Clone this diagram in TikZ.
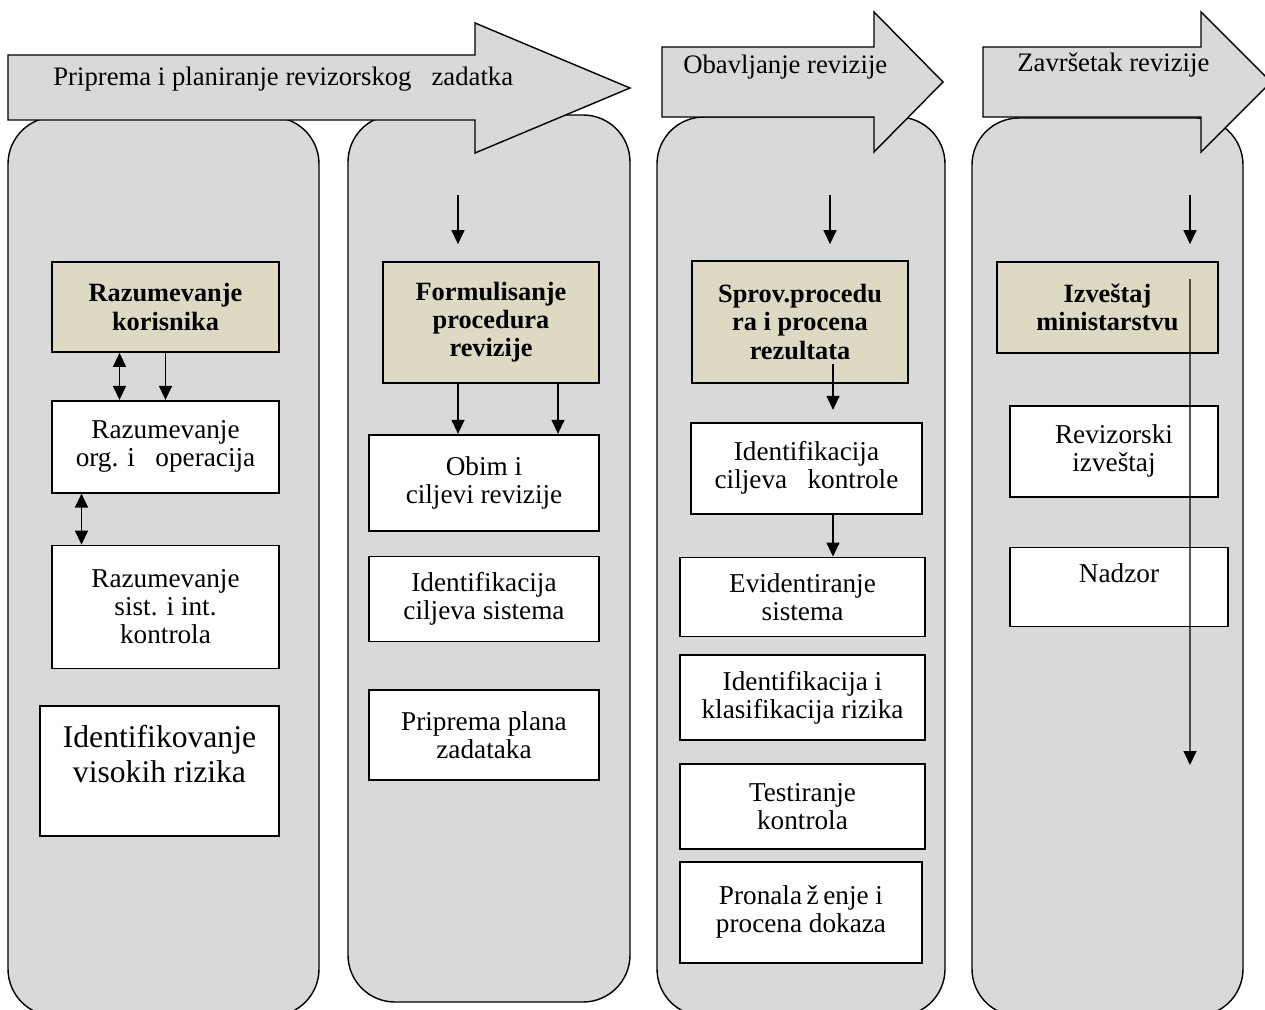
\documentclass[tikz,border=0pt]{standalone}
\usepackage{fontspec}
\setmainfont{Liberation Serif}
\usetikzlibrary{positioning,calc,arrows.meta}
\definecolor{lanegray}{HTML}{D9D9D9}
\definecolor{tanfill}{HTML}{DDD9C3}

\begin{document}
\begin{tikzpicture}[x=0.02cm, y=-0.02cm,
    lane/.style={draw, line width=0.8pt, fill=lanegray, rounded corners=0.94cm},
    phase/.style={draw, line width=0.8pt, fill=lanegray},
    phasetext/.style={anchor=west, inner sep=0pt, font=\fontsize{15.2}{16}\selectfont},
    headbox/.style={draw, line width=1pt, fill=tanfill, align=center, inner sep=2pt, font=\bfseries\fontsize{15}{16}\selectfont},
    stepbox/.style={draw, line width=1pt, fill=white, align=center, inner sep=2pt, font=\fontsize{15.5}{16}\selectfont},
    arr/.style={line width=0.8pt, -{Triangle[length=0.28cm,width=0.26cm]}},
    dblarr/.style={line width=0.8pt, {Triangle[length=0.28cm,width=0.26cm]}-{Triangle[length=0.28cm,width=0.26cm]}}]
    \useasboundingbox (0,0) rectangle (1265,1010);
    \clip (0,0) rectangle (1265,1010);

    % lanes
    \draw[lane] (8,117) rectangle (319,1016);
    \draw[lane] (348,115) rectangle (630,1002);
    \draw[lane] (657,117) rectangle (945,1016);
    \draw[lane] (972,118) rectangle (1243,1016);

    % phase arrows
    \draw[phase] (8,55) -- (475,55) -- (475,23) -- (630,88) -- (475,153) -- (475,120) -- (8,120) -- cycle;
    \draw[phase] (662,47) -- (874,47) -- (874,12) -- (943,82) -- (874,152) -- (874,117) -- (662,117) -- cycle;
    \draw[phase] (983,47) -- (1201,47) -- (1201,12) -- (1271,82) -- (1201,152) -- (1201,117) -- (983,117) -- cycle;
    \node[phasetext] (ph1) at (53,79) {Priprema i planiranje revizorskog\ \ \ zadatka};
    \node[phasetext] (ph2) at (683,67) {Obavljanje revizije};
    \node[phasetext] (ph3) at (1017,65) {Završetak revizije};

    % lane 1
    \node[headbox, minimum width=4.54cm, minimum height=1.8cm] (kor) at (165.5,307) {Razumevanje\\korisnika};
    \node[stepbox, minimum width=4.54cm, minimum height=1.84cm, below=0.94cm of kor] (org) {Razumevanje\\org. i\ \ \ operacija};
    \node[stepbox, minimum width=4.54cm, minimum height=2.46cm, below=1.02cm of org] (sist) {Razumevanje\\sist. i int.\\kontrola};
    \node[stepbox, minimum width=4.78cm, minimum height=2.6cm, below=0.72cm of sist, xshift=-0.12cm,
          font=\fontsize{18}{20}\selectfont] (rizik) {Identifikovanje\\visokih rizika\\\mbox{}};

    % lane 2
    \node[headbox, minimum width=4.32cm, minimum height=2.42cm] (form) at (491,322.5) {Formulisanje\\procedura\\revizije};
    \node[stepbox, minimum width=4.6cm, minimum height=1.92cm, below=1.0cm of form, xshift=-0.14cm] (obim) {Obim i\\ciljevi revizije};
    \node[stepbox, minimum width=4.6cm, minimum height=1.7cm, below=0.48cm of obim] (ciljs) {Identifikacija\\ciljeva sistema};
    \node[stepbox, minimum width=4.6cm, minimum height=1.8cm, below=0.94cm of ciljs] (plan) {Priprema plana\\zadataka};

    % lane 3
    \node[headbox, minimum width=4.32cm, minimum height=2.44cm] (sprov) at (800,322) {Sprov.procedu\\ra i procena\\rezultata};
    \node[stepbox, minimum width=4.62cm, minimum height=1.82cm, below=0.76cm of sprov, xshift=0.13cm] (ciljk) {Identifikacija\\ciljeva\ \ \ kontrole};
    \node[stepbox, minimum width=4.9cm, minimum height=1.58cm, below=0.84cm of ciljk, xshift=-0.08cm] (evid) {Evidentiranje\\sistema};
    \node[stepbox, minimum width=4.9cm, minimum height=1.7cm, below=0.34cm of evid] (klas) {Identifikacija i\\klasifikacija rizika};
    \node[stepbox, minimum width=4.9cm, minimum height=1.7cm, below=0.44cm of klas] (test) {Testiranje\\kontrola};
    \node[stepbox, minimum width=4.84cm, minimum height=2.02cm, below=0.22cm of test, xshift=-0.03cm] (dokaz) {Pronala\,ž\,enje i\\procena dokaza};

    % lane 4
    \node[headbox, minimum width=4.42cm, minimum height=1.82cm] (izv) at (1107.5,307.5) {Izveštaj\\ministarstvu};
    \node[stepbox, minimum width=4.16cm, minimum height=1.82cm, below=1.02cm of izv, xshift=0.13cm] (reviz) {Revizorski\\izveštaj};
    \node[stepbox, minimum width=4.36cm, minimum height=1.58cm, below=0.98cm of reviz, xshift=0.1cm] (nadzor) {Nadzor\\\mbox{}};

    % connectors
    \draw[dblarr] ($(kor.south)+(-46,0)$) coordinate (k1) -- (k1 |- org.north);
    \draw[arr] (kor.south) -- (org.north);
    \draw[dblarr] ($(org.south)+(-84,0)$) coordinate (o1) -- (o1 |- sist.north);

    \coordinate (in2) at (458,195);
    \draw[arr, shorten >=0.34cm] (in2) -- (in2 |- form.north);
    \draw[arr] ($(form.south)+(-33,0)$) coordinate (f1) -- (f1 |- obim.north);
    \draw[arr] ($(form.south)+(67,0)$) coordinate (f2) -- (f2 |- obim.north);

    \coordinate (in3) at (830,195);
    \draw[arr, shorten >=0.32cm] (in3) -- (in3 |- sprov.north);
    \draw[arr, shorten >=0.24cm] ($(sprov.south)+(33,-20)$) coordinate (s1) -- (s1 |- ciljk.north);
    \draw[arr] ($(ciljk.south)+(26.5,0)$) coordinate (s2) -- (s2 |- evid.north);

    \coordinate (in4) at (1190,195);
    \draw[arr, shorten >=0.34cm] (in4) -- (in4 |- izv.north);
    \coordinate (c4end) at (1190,765);
    \draw[arr] ($(izv.north)+(82.5,18)$) -- (c4end);
\end{tikzpicture}
\end{document}
